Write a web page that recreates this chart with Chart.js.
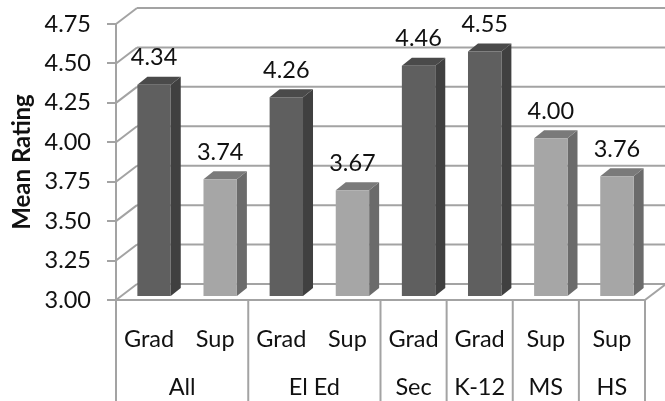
<!DOCTYPE html>
<html>
<head>
<meta charset="utf-8">
<script src="https://cdn.jsdelivr.net/npm/chart.js@4"></script>
<style>
html, body { margin: 0; padding: 0; background: #fff; }
#wrap { width: 665px; height: 401px; overflow: hidden; }
</style>
</head>
<body>
<div id="wrap"><canvas id="rating-chart" width="665" height="401"></canvas></div>
<script>
const categories = ['Grad', 'Sup', 'Grad', 'Sup', 'Grad', 'Grad', 'Sup', 'Sup'];
const ratings = [4.34, 3.74, 4.26, 3.67, 4.46, 4.55, 4.00, 3.76];
const groupLabels = ['All', 'El Ed', 'Sec', 'K-12', 'MS', 'HS'];
const groupSpans = [2, 2, 1, 1, 1, 1];

const FONT = 'Lato, "Open Sans", sans-serif';
const TEXT_SIZE = 23.5;
const LINE = '#a3a3a3';

// front, side and top faces of each bar colour
const faces = {
    Grad: { front: '#5f5f5f', side: '#404040', top: '#4a4a4a' },
    Sup: { front: '#a6a6a6', side: '#6b6b6b', top: '#7a7a7a' }
};

const wallDepth = { x: 21, y: -16 };   // front plane to back wall
const barShift = { x: 5, y: -4 };      // front plane to front of bars
const barDepth = { x: 10, y: -8 };     // thickness of a bar

function line(ctx, x1, y1, x2, y2) {
    ctx.beginPath();
    ctx.moveTo(x1, y1);
    ctx.lineTo(x2, y2);
    ctx.stroke();
}

function poly(ctx, color, pts) {
    ctx.fillStyle = color;
    ctx.beginPath();
    pts.forEach((p, i) => i ? ctx.lineTo(p[0], p[1]) : ctx.moveTo(p[0], p[1]));
    ctx.closePath();
    ctx.fill();
}

const box3d = {
    id: 'box3d',
    beforeDatasetsDraw(chart) {
        const { ctx, chartArea: area, scales: { y } } = chart;
        ctx.save();
        ctx.strokeStyle = LINE;
        ctx.lineWidth = 2;

        // back wall gridlines and the diagonals running to the axis
        y.ticks.forEach(t => {
            const py = y.getPixelForValue(t.value);
            line(ctx, area.left, py, area.left + wallDepth.x, py + wallDepth.y);
            line(ctx, area.left + wallDepth.x, py + wallDepth.y, area.right + wallDepth.x, py + wallDepth.y);
        });
        // right edge of the floor
        line(ctx, area.right, area.bottom, area.right + wallDepth.x, area.bottom + wallDepth.y);
        ctx.restore();

        // bars sit a little behind the front plane
        ctx.save();
        ctx.translate(barShift.x, barShift.y);
        chart.getDatasetMeta(0).data.forEach((bar, i) => {
            const c = faces[categories[i]];
            const l = bar.x - bar.width / 2;
            const r = bar.x + bar.width / 2;
            const dx = barDepth.x;
            const dy = barDepth.y;
            const base = area.bottom;
            poly(ctx, c.side, [[r, bar.y], [r + dx, bar.y + dy], [r + dx, base + dy], [r, base]]);
            poly(ctx, c.top, [[l, bar.y], [l + dx, bar.y + dy], [r + dx, bar.y + dy], [r, bar.y]]);
        });
    },
    afterDatasetsDraw(chart) {
        const { ctx, chartArea: area, scales: { x } } = chart;
        ctx.restore();

        // value labels above the bars
        ctx.save();
        ctx.font = TEXT_SIZE + 'px ' + FONT;
        ctx.fillStyle = '#111';
        ctx.textAlign = 'center';
        ctx.textBaseline = 'middle';
        chart.getDatasetMeta(0).data.forEach((bar, i) => {
            ctx.fillText(ratings[i].toFixed(2), bar.x + barShift.x, bar.y + barShift.y - 27);
        });

        // category dividers and the outer level of labels
        const step = (area.right - area.left) / categories.length;
        ctx.strokeStyle = LINE;
        ctx.lineWidth = 2;
        line(ctx, area.left, area.bottom, area.left, 401);
        let start = 0;
        groupLabels.forEach((label, i) => {
            const end = start + groupSpans[i];
            const right = x.getPixelForValue(end - 1) + step / 2;
            line(ctx, right, area.bottom, right, 401);
            ctx.fillText(label, (x.getPixelForValue(start) + x.getPixelForValue(end - 1)) / 2, 387);
            start = end;
        });
        ctx.restore();
    }
};

new Chart(document.getElementById('rating-chart').getContext('2d'), {
    type: 'bar',
    data: {
        labels: categories,
        datasets: [{
            data: ratings,
            backgroundColor: categories.map(c => faces[c].front),
            barPercentage: 0.505,
            categoryPercentage: 1
        }]
    },
    plugins: [box3d],
    options: {
        responsive: false,
        animation: false,
        layout: { padding: { top: 24, right: 20 } },
        plugins: { legend: { display: false }, tooltip: { enabled: false } },
        scales: {
            x: {
                afterFit(scale) {
                    scale.height = 101;
                    scale.paddingLeft = 0;
                    scale.paddingRight = 0;
                },
                grid: { display: false },
                border: { color: LINE, width: 2 },
                ticks: {
                    autoSkip: false,
                    maxRotation: 0,
                    padding: 17,
                    color: '#111',
                    font: { family: FONT, size: TEXT_SIZE }
                }
            },
            y: {
                min: 3,
                max: 4.75,
                afterFit(scale) {
                    scale.width = 116;
                    scale.paddingTop = 0;
                    scale.paddingBottom = 0;
                },
                grid: { drawOnChartArea: false, color: LINE, lineWidth: 2, tickLength: 9 },
                border: { color: LINE, width: 2 },
                title: {
                    display: true,
                    text: 'Mean Rating',
                    color: '#111',
                    padding: { top: 8, bottom: 0 },
                    font: { family: FONT, size: 24, weight: 'bold' }
                },
                ticks: {
                    stepSize: 0.25,
                    padding: 16,
                    color: '#111',
                    font: { family: FONT, size: TEXT_SIZE },
                    callback: v => v.toFixed(2)
                }
            }
        }
    }
});
</script>
</body>
</html>
